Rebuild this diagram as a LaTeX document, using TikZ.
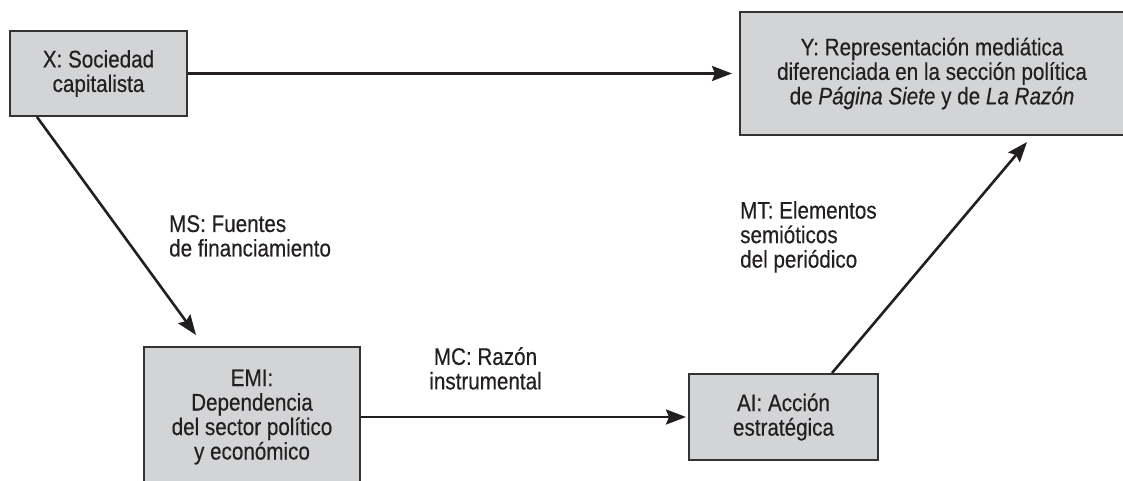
\documentclass[tikz,border=0pt]{standalone}
\usepackage{fontspec}
\setmainfont{Liberation Sans}[FakeStretch=0.86,FakeBold=0.35]
\usetikzlibrary{arrows.meta}
\definecolor{boxfill}{HTML}{D3D4D6}
\definecolor{boxline}{HTML}{333333}
\definecolor{ink}{HTML}{231F20}
\tikzset{
  box/.style={draw=boxline, line width=2pt, fill=boxfill, align=center, text=ink,
    font=\fontsize{24}{24.5}\selectfont, inner sep=0pt},
  lbl/.style={align=left, text=ink, font=\fontsize{24}{24.5}\selectfont, inner sep=0pt},
  arr/.style={draw=ink, line width=2.6pt, -{Stealth[length=20pt,width=15pt,inset=3pt]}}
}
\begin{document}
\begin{tikzpicture}[x=1pt,y=-1pt]
\clip (0,0) rectangle (1123,481);
\fill[white] (0,0) rectangle (1123,481);
\node[box, minimum width=177pt, minimum height=85pt] (x) at (98.5,73.5) {X: Sociedad\\capitalista};
\node[box, minimum width=384pt, minimum height=123pt] (y) at (932,73.5) {Y: Representación mediática\\diferenciada en la sección política\\de \textit{Página Siete} y de \textit{La Razón}};
\node[box, minimum width=216pt, minimum height=140pt] (emi) at (252,417) {EMI:\\Dependencia\\del sector político\\y económico};
\node[box, minimum width=189pt, minimum height=86pt] (ai) at (783.5,417) {AI: Acción\\estratégica};
\node[lbl, anchor=north west] (ms) at (169,215) {MS: Fuentes\\de financiamiento};
\node[lbl, align=center, anchor=north] (mc) at (485.5,347) {MC: Razón\\instrumental};
\node[lbl, anchor=north west] (mt) at (740,201) {MT: Elementos\\semióticos\\del periódico};
\draw[arr, shorten >=7pt] (x) -- (y);
\draw[arr, shorten >=2pt] (emi) -- (ai);
\draw[arr] ([xshift=28pt]x.south west) -- ([xshift=53pt,yshift=11pt]emi.north west);
\draw[arr] ([xshift=144pt]ai.north west) -- ([xshift=288pt,yshift=-6pt]y.south west);
\end{tikzpicture}
\end{document}
